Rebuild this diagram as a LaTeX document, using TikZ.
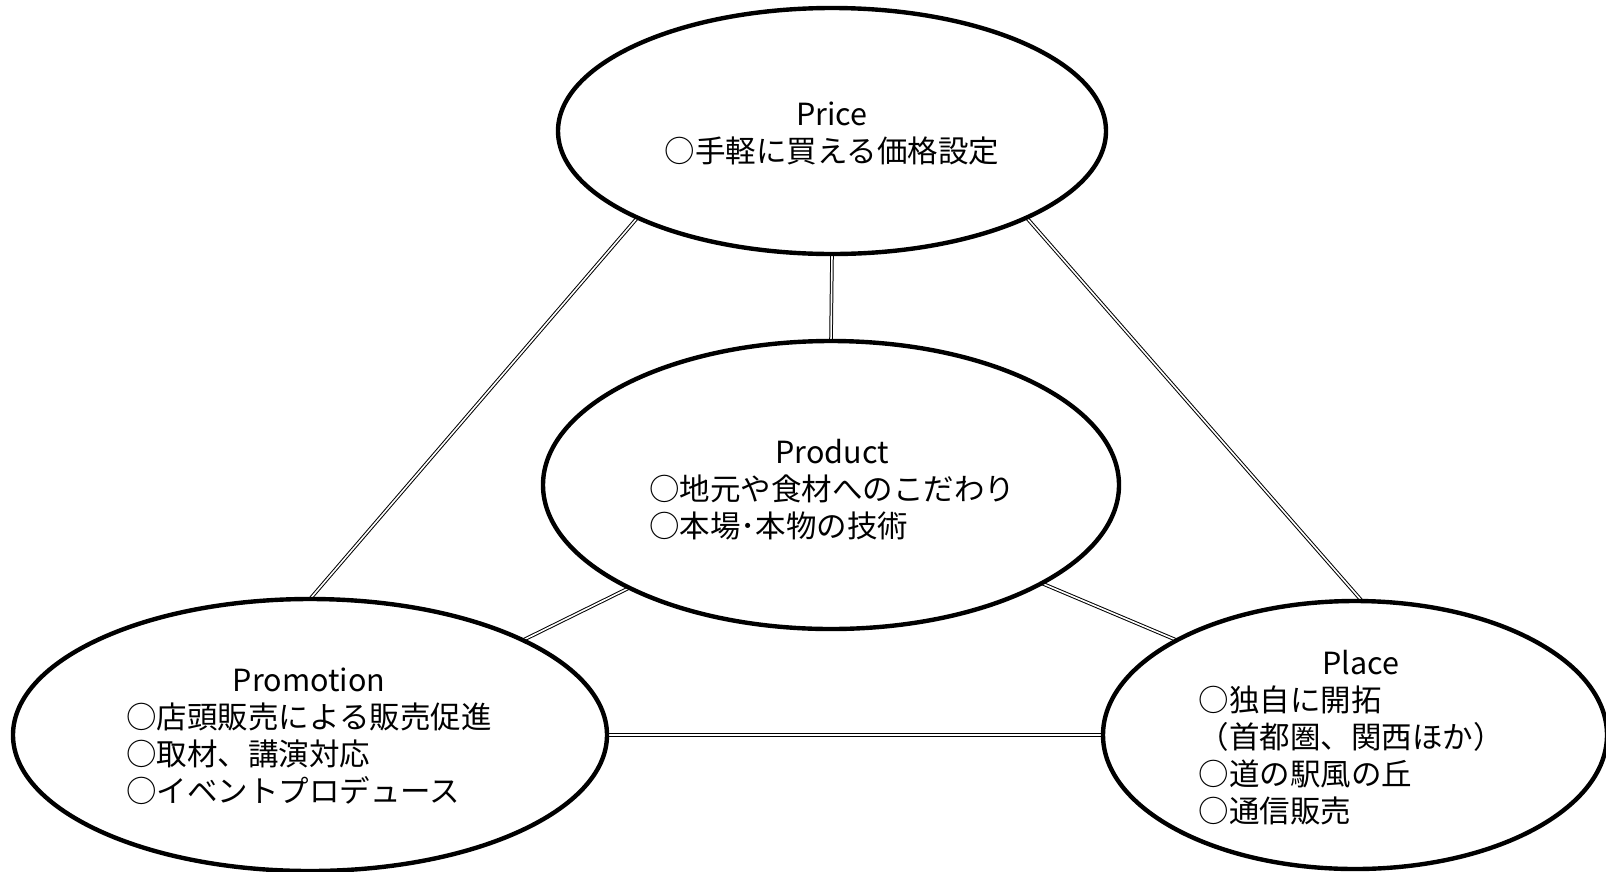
\documentclass[tikz,border=0pt]{standalone}
\usepackage{fontspec}
\setmainfont{Noto Sans CJK JP}
\usetikzlibrary{shapes.geometric,backgrounds}
\begin{document}
\begin{tikzpicture}[x=1pt,y=-1pt,
  oval/.style={draw, line width=4.4pt, ellipse, inner sep=0pt, outer sep=0pt},
  link/.style={double, line width=1pt, double distance=1.6pt},
  lbl/.style={font=\fontsize{30.5}{37}\selectfont, inner sep=0pt}]
\useasboundingbox (0,0) rectangle (1606,871);
% ellipses
\node[oval, minimum width=548pt, minimum height=246pt] (price) at (832,131) {};
\node[oval, minimum width=576pt, minimum height=288pt] (product) at (831,485) {};
\node[oval, minimum width=594pt, minimum height=272pt] (promotion) at (310,735) {};
\node[oval, minimum width=504pt, minimum height=268pt] (place) at (1355,735) {};
% texts
\node[lbl] (pricetxt) at (832,137) {\begin{tabular}{@{}l@{}}\multicolumn{1}{@{}c@{}}{Price}\\○手軽に買える価格設定\end{tabular}};
\node[lbl] (producttxt) at (832,493) {\begin{tabular}{@{}l@{}}\multicolumn{1}{@{}c@{}}{Product}\\○地元や食材へのこだわり\\○本場･本物の技術\end{tabular}};
\node[lbl] (promotiontxt) at (309,740) {\begin{tabular}{@{}l@{}}\multicolumn{1}{@{}c@{}}{Promotion}\\○店頭販売による販売促進\\○取材、講演対応\\○イベントプロデュース\end{tabular}};
\node[lbl] (placetxt) at (1351,741) {\begin{tabular}{@{}l@{}}\multicolumn{1}{@{}c@{}}{\hspace{20pt}Place}\\○独自に開拓\\（首都圏、関西ほか）\\○道の駅風の丘\\○通信販売\end{tabular}};
% connectors
\begin{scope}[on background layer]
\draw[link] (price.204.5) -- (promotion.north);
\draw[link] (price.south) -- (product.north);
\draw[link] (price.336) -- (place.87);
\draw[link] (product.207.5) -- (promotion.24.1);
\draw[link] (product.335.9) -- (place.152);
\draw[link] (promotion.east) -- (place.west);
\end{scope}
\end{tikzpicture}
\end{document}
